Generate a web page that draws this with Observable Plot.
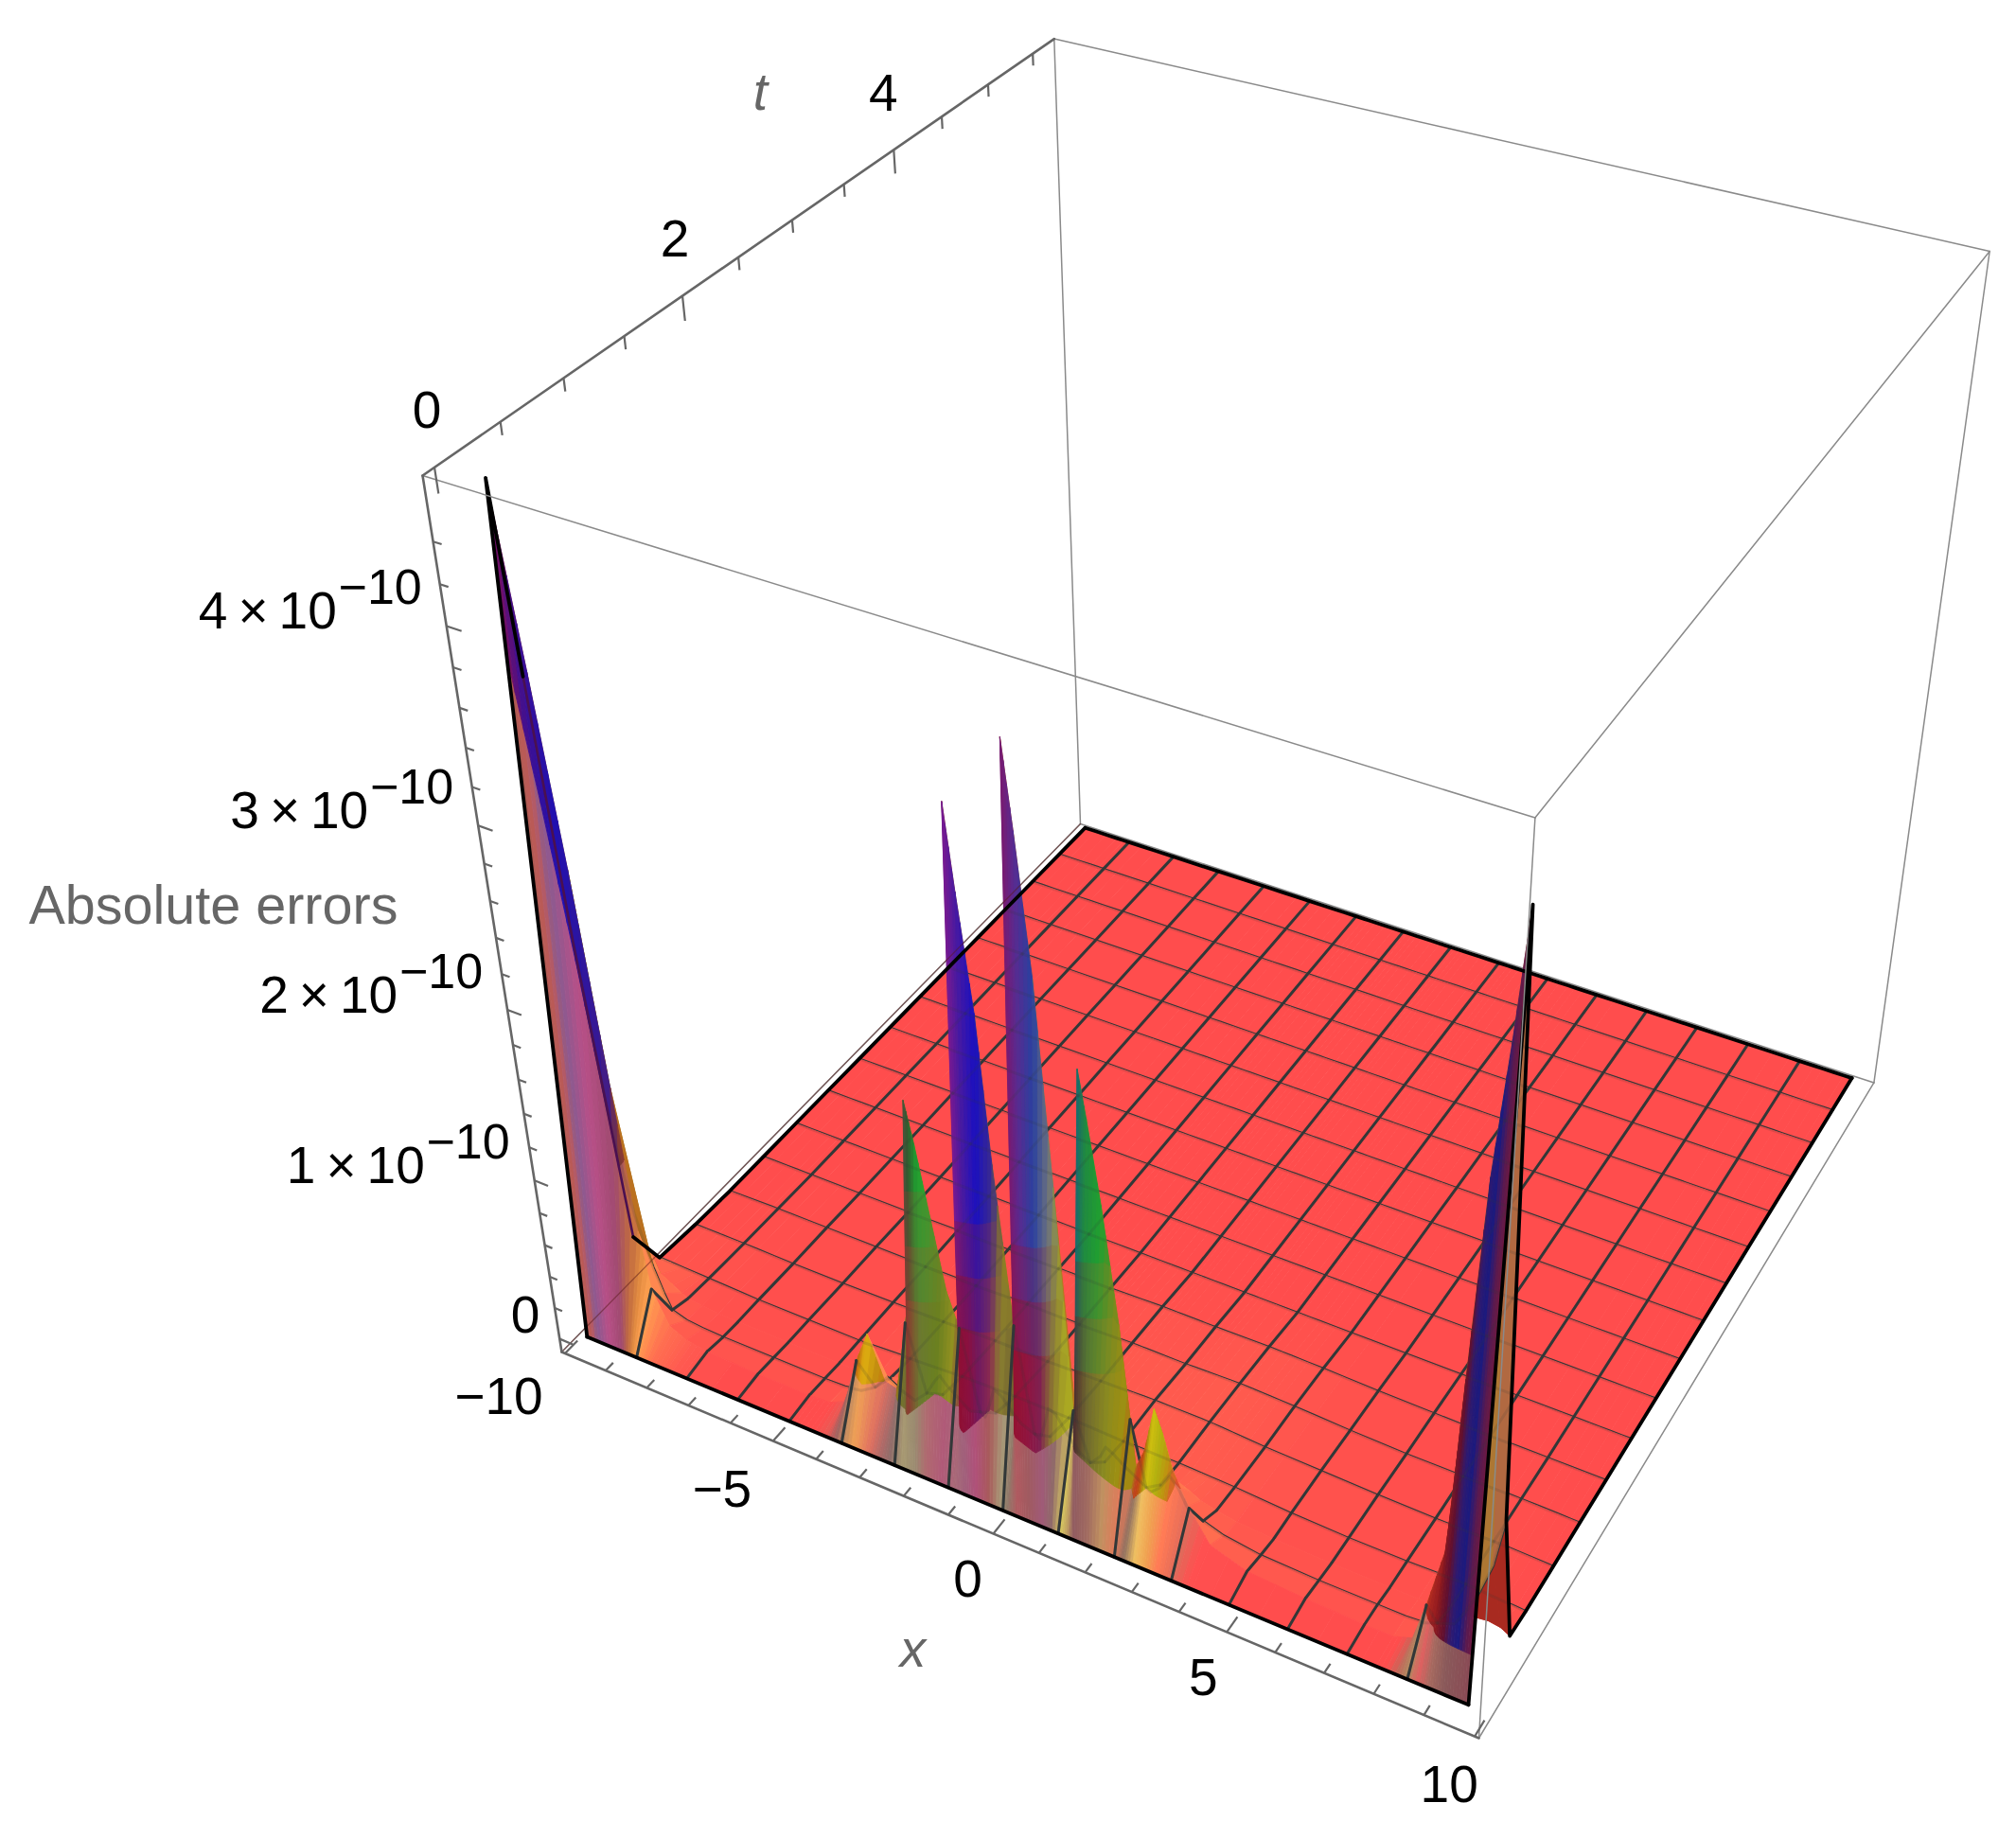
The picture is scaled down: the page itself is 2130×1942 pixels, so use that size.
<!DOCTYPE html>
<html>
<head>
<meta charset="utf-8">
<script src="https://cdn.jsdelivr.net/npm/d3@7"></script>
<script src="https://cdn.jsdelivr.net/npm/@observablehq/plot@0.6"></script>
<style>html,body{margin:0;padding:0;background:#fff}svg{display:block}</style>
</head>
<body>
<div id="chart"></div>
<script>
// ---------- data: absolute errors (units of 1e-10) ----------
const xs = [-10,-9.7,-9.4,-9.1,-8.9,-8.75,-8.4,-8,-7.5,-6.25,-5,-4.5,-4.1,-3.75,-3.43,-3.1,-2.8,-2.5,-2.29,-2.16,-1.99,-1.74,-1.49,-1.25,-1.14,-1.01,-0.9,-0.74,-0.49,-0.29,0,0.11,0.23,0.34,0.51,0.76,1.01,1.25,1.33,1.49,1.61,1.76,2.01,2.31,2.6,2.8,3.03,3.2,3.4,3.75,4.2,5,6.25,7.5,8.1,8.5,8.75,9.1,9.3,9.55,9.8,10];
const zAt020 = [4.6,3.7,2.7,1.5,0.65,0.3,0.1,0.05,0.03,0.02,0.02,0.03,0.08,0.38,0.58,0.32,0.3,0.75,1.0,2.08,1.85,1.45,1.05,0.85,0.6,1.3,3.73,3.3,2.7,1.9,1.0,0.75,1.6,4.13,3.7,3.0,1.9,0.62,0.7,1.1,2.6,2.35,1.9,1.25,0.42,0.55,0.83,0.7,0.5,0.3,0.12,0.05,0.03,0.02,0.02,0.06,0.3,0.7,1.7,2.8,3.5,4.14];
const zAt035 = [2.15,1.1,0.6,0.3,0.15,0.06,0.03,0.02,0.015,0.015,0.015,0.02,0.04,0.1,0.2,0.15,0.12,0.2,0.3,0.35,0.3,0.25,0.2,0.22,0.2,0.3,0.4,0.38,0.3,0.25,0.22,0.2,0.3,0.42,0.4,0.3,0.22,0.18,0.2,0.25,0.32,0.3,0.25,0.2,0.15,0.2,0.3,0.25,0.15,0.1,0.06,0.03,0.02,0.02,0.02,0.03,0.06,0.1,0.2,0.35,0.55,0.85];
const zAt050 = [0.3,0.2,0.12,0.08,0.05,0.03,0.02,0.01,0.01,0.01,0.01,0.01,0.02,0.05,0.08,0.07,0.06,0.08,0.1,0.12,0.11,0.1,0.08,0.1,0.09,0.1,0.14,0.13,0.12,0.1,0.09,0.08,0.1,0.14,0.14,0.11,0.09,0.07,0.08,0.1,0.12,0.11,0.1,0.08,0.06,0.08,0.12,0.1,0.07,0.05,0.03,0.015,0.01,0.01,0.01,0.015,0.03,0.03,0.04,0.05,0.04,0.01];
const xMesh = [-10,-8.75,-7.5,-6.25,-5,-3.75,-2.5,-1.25,0,1.25,2.5,3.75,5,6.25,7.5,8.75,10];
const zAt070 = [0.03,0.02,0.01,0.01,0.01,0.03,0.05,0.06,0.06,0.05,0.05,0.04,0.02,0.01,0.01,0.02,0];
const zAt105 = [0.01,0.01,0.005,0.005,0.01,0.02,0.03,0.03,0.04,0.05,0.05,0.03,0.02,0.01,0.005,0.01,0];
const zAt140 = [0,0.005,0.005,0.005,0.005,0.01,0.02,0.02,0.03,0.03,0.04,0.03,0.015,0.005,0.005,0.005,0];
const zAt175 = [0,0,0,0,0.005,0.005,0.01,0.01,0.02,0.02,0.025,0.02,0.01,0.005,0,0,0];
const tRows = [0,0.2,0.35,0.5,0.7,1.05,1.4,1.75,2.1,2.45,2.8,3.15,3.5,3.85,4.2,4.55,4.9,5.25,5.6];
const xTicks = d3.range(-10,11,1), xLabels = [-10,-5,0,5,10];
const xLabelTexts = ["−10","−5","0","5","10"];
const tTicks = d3.range(0,5.6,0.5), tLabels = [0,2,4];
const tLabelTexts = ["0","2","4"];
const zTicks = d3.range(0,4.41,0.2), zLabels = [1,2,3,4];
const xTitle = "x", tTitle = "t", zTitle = "Absolute errors";

// ---------- styles (colour stops along x) ----------
const finStops = [[-10,"#7a1060"],[-9.8,"#401090"],[-9.5,"#2010b0"],[-9.15,"#3a1a90"],[-9.02,"#8a3a30"],[-8.8,"#d06020"],[-8.7,"#e07040"],
 [-3.9,"#e05020"],[-3.65,"#c06a10"],[-3.43,"#e0b010"],[-3.2,"#c08a10"],[-2.95,"#d06a10"],[-2.7,"#a8501a"],[-2.45,"#6a7a30"],[-2.25,"#5a6a35"],[-2.1,"#5a5040"],[-2,"#305a30"],[-1.85,"#20a030"],[-1.7,"#30a030"],[-1.45,"#70882a"],[-1.25,"#a0a020"],
 [-1.02,"#8a3a30"],[-0.93,"#8c1030"],[-0.85,"#7a1a70"],[-0.81,"#7a1a90"],[-0.65,"#4a1aa0"],[-0.4,"#1a10c0"],[-0.2,"#3a2a90"],[-0.05,"#8a7a20"],[0.08,"#a09020"],
 [0.2,"#6a5a20"],[0.3,"#8c1030"],[0.38,"#7a1a60"],[0.43,"#7a1a70"],[0.6,"#5a2a90"],[0.85,"#2a40a0"],[1.05,"#6a7080"],[1.2,"#a0a030"],[1.32,"#c0c020"],[1.46,"#504040"],[1.62,"#3a4a40"],[1.7,"#1a6a70"],[1.85,"#208a40"],[2.1,"#20a030"],[2.35,"#6a8a20"],[2.55,"#a09010"],[2.7,"#c04020"],
 [2.8,"#c04a10"],[2.95,"#b09a10"],[3.03,"#d0c010"],[3.2,"#b0b010"],[3.35,"#c09010"],[3.5,"#e05030"],[8.6,"#d04020"],[9.0,"#a02020"],[9.2,"#8a1a20"],[9.4,"#601030"],[9.55,"#301a70"],[9.7,"#1a1a80"],[9.87,"#5a1a50"],[10,"#701a40"]];
const lowFinStops = [[-2.7,"#a8701a"],[-2.5,"#807a20"],[-2.25,"#707030"],[-2.05,"#8a3a30"],[-1.8,"#6a7a30"],[-1.5,"#6a8020"],[-1.25,"#909020"],[-1.05,"#8a3a40"],[-0.9,"#901030"],[-0.6,"#8a1040"],[-0.4,"#701a60"],[-0.2,"#8a2a50"],[-0.05,"#8a8030"],[0.2,"#6a5a30"],[0.4,"#951030"],[0.7,"#901540"],[0.95,"#802050"],[1.15,"#8a7a30"],[1.3,"#b0b020"],[1.45,"#503840"],[1.7,"#503030"],[1.95,"#706a30"],[2.3,"#8a8a20"],[2.55,"#a09010"]];
const paleStops = [[-10,"#a85a50"],[-9.85,"#c05a58"],[-9.7,"#8a5a90"],[-9.4,"#b85088"],[-9.1,"#a04a70"],[-8.95,"#c06a40"],[-8.85,"#e08a40"],[-8.75,"#ffa050"],[-8.4,"#ff7050"],[-7.8,"#ff5a50"],[-7,"#ff4d4d"],[-4.4,"#ff4d4d"],[-4.1,"#e85a55"],[-3.9,"#a06060"],[-3.7,"#c08a60"],[-3.45,"#f0a055"],[-3.1,"#e07060"],[-2.85,"#b06a68"],[-2.6,"#8f6d6a"],[-2.3,"#a89a72"],[-2,"#9a8a70"],[-1.75,"#b06a70"],[-1.4,"#b05a78"],[-1.1,"#a86a78"],[-0.85,"#a0607a"],[-0.6,"#b0507a"],[-0.3,"#a85a5a"],[-0.05,"#a89a78"],[0.1,"#907a6a"],[0.35,"#b05a60"],[0.6,"#a05a60"],[0.9,"#a05a78"],[1.1,"#906a6a"],[1.3,"#d8c860"],[1.45,"#c0a060"],[1.6,"#905a60"],[1.9,"#a06a60"],[2.2,"#c09060"],[2.5,"#e07a5a"],[2.7,"#907060"],[2.95,"#f0c060"],[3.2,"#f0a050"],[3.45,"#ff7a55"],[3.8,"#e06a5a"],[4.1,"#ff5050"],[5,"#ff4d4d"],[8.3,"#ff4d4d"],[8.55,"#c06a5a"],[8.75,"#b08a60"],[8.95,"#e06060"],[9.2,"#a86a60"],[9.5,"#8a5a5a"],[10,"#8a4a55"]];
const curtainStops = [[-8.8,0.9],[-4.3,0.9],[-4,0.35],[-3.6,0.33],[-2.6,0.33],[-2.2,0.33],[-1.6,0.5],[-0.85,0.38],[-0.3,0.56],[0.75,0.43],[1.35,0.57],[1.75,0.5],[2.3,0.4],[2.7,0.3],[3.03,0.42],[3.4,0.35],[4,0.9],[8.5,0.9],[8.8,0.3],[10,0.3]];
const planeColor = "#ff4d4d", meshColor = "#333838", tickColor = "#666666", boxColor = "#8a8a8a";
const backStops = [[0.5,"#c06a20"],[1.2,"#a88a20"],[2.2,"#b06a40"],[4,"#c05060"]];

// ---------- camera: perspective view of the unit box ----------
const cam = {O:[593,1428],A:[1562,1836],B:[1141,870],C:[446,502],a:0.889,b:1.211,c:0.83};
const uX = x => 0.022 + 0.96*(x+10)/20, uAxis = x => 0.004 + 0.992*(x+10)/20;
const vT = t => 0.015 + 0.96*t/5.6, wZ = z => 0.018 + 0.2088*z;
function project(u,v,w){
  const {O,A,B,C,a,b,c} = cam;
  const D = 1+(a-1)*u+(b-1)*v+(c-1)*w;
  return [0,1].map(i => (O[i]+u*(a*A[i]-O[i])+v*(b*B[i]-O[i])+w*(c*C[i]-O[i]))/D);
}
const P3 = (x,t,z) => project(uX(x),vT(t),wZ(z));

// ---------- helpers ----------
const stopScale = stops => d3.scaleLinear().domain(stops.map(s=>s[0])).range(stops.map(s=>s[1])).clamp(true);
const colorX = x => (x>-2.6 && x<2.5) ? x+0.09 : x;
const finScale = stopScale(finStops).interpolate(d3.interpolateRgb);
const finColor = x => finScale(colorX(x));
const lowScale = stopScale(lowFinStops).interpolate(d3.interpolateRgb);
const lowColor = x => (x>-2.7&&x<2.45) ? lowScale(colorX(x)) : finColor(x);
const paleColor = stopScale(paleStops).interpolate(d3.interpolateRgb);
const curtainTop = stopScale(curtainStops);
const backColor = stopScale(backStops).interpolate(d3.interpolateRgb);
const planeMix = d3.scaleLinear().domain([0,0.04,0.3]).range([planeColor,"#ff5a4e","#ff8a50"]).clamp(true).interpolate(d3.interpolateRgb);
const zMeshAt = arr => d3.scaleLinear().domain(xMesh).range(arr);
const far = [zAt070,zAt105,zAt140,zAt175].map(zMeshAt);
const zRow = [xs.map(()=>0),zAt020,zAt035,zAt050,...far.map(f=>xs.map(f))];
while (zRow.length<tRows.length) zRow.push(xs.map(()=>0));
const zx = zRow.map(r=>d3.scaleLinear().domain(xs).range(r));
const surf = (x,i) => zx[i](x);
function zAtT(x,t){
  let i = d3.bisectRight(tRows,t)-1; i = Math.max(0,Math.min(i,tRows.length-2));
  const f=(t-tRows[i])/(tRows[i+1]-tRows[i]);
  return surf(x,i)*(1-f)+surf(x,i+1)*f;
}

// ---------- build layers: far band first, near band last ----------
let pid=0;
function quad(out,corners,color){ pid++; corners.forEach(p=>out.push({px:p[0],py:p[1],id:pid,c:color})); }
const meshX = d3.range(1,16).map(k=>-10+1.25*k), meshT = d3.range(1,16).map(k=>0.35*k);
const allX = Array.from(new Set([...xs,...meshX])).sort((a,b)=>a-b);
const line3 = (pts,key)=>pts.map(p=>({px:p[0],py:p[1],id:key}));
const meshStyle = {x:"px",y:"py",z:"id",stroke:meshColor,strokeWidth:3,strokeLinejoin:"round"};
const surfaceMarks=[], allMesh=[];
const mix=(a,b,f)=>d3.interpolateRgb(a,b)(f);

for(let i=tRows.length-2;i>=0;i--){
  const t0=tRows[i], t1=tRows[i+1], polys=[];
  if(i===0){
    for(let j=0;j<xs.length-1;j++){
      const n = (xs[j+1]-xs[j])>0.5 ? 2 : 4;
      for(let k=0;k<n;k++){
        const xa=xs[j]+(xs[j+1]-xs[j])*k/n, xb=xs[j]+(xs[j+1]-xs[j])*(k+1)/n, xm=(xa+xb)/2;
        const ra=Math.max(surf(xa,1),1e-6), rb=Math.max(surf(xb,1),1e-6);
        const at=(x,r,level)=>{const s=Math.min(1,level/r);return P3(x,t1*s,r*s);};
        const zone=(la,lb,c)=>quad(polys,[at(xa,ra,la[0]),at(xb,rb,lb[0]),at(xb,rb,lb[1]),at(xa,ra,la[1])],c);
        if(xm<-8.8){
          const fa=ra>1.2?0.82:1, fb=rb>1.2?0.82:1;
          zone([0,ra*fa],[0,rb*fb],paleColor(xm));
          if(fa<1||fb<1) zone([ra*fa,ra],[rb*fb,rb],finColor(xm));
        } else {
          const ca=curtainTop(xa), cb=curtainTop(xb);
          zone([0,ca],[0,cb],paleColor(xm));
          const levels=[[ca,cb],[1,1],[1.3,1.3],[1.6,1.6],[9,9]];
          const fs_=[0,0.33,0.67,1];
          for(let L=0;L<4;L++){
            const la=Math.max(levels[L][0],ca), lb=Math.max(levels[L][1],cb), ua=levels[L+1][0], ub=levels[L+1][1];
            if(la<ra||lb<rb) zone([la,Math.max(ua,la)],[lb,Math.max(ub,lb)],mix(lowColor(xm),finColor(xm),fs_[L]));
          }
        }
      }
    }
  } else {
    for(let j=0;j<xs.length-1;j++){
      const xa=xs[j],xb=xs[j+1];
      const za0=surf(xa,i),zb0=surf(xb,i),za1=surf(xa,i+1),zb1=surf(xb,i+1);
      const zm=(za0+zb0+za1+zb1)/4;
      let col = zm>0.5 ? backColor(zm) : planeMix(zm);
      if(xa>=9.1 && i<=2 && zm<=0.5) col="#a82a20";
      quad(polys,[P3(xa,t0,za0),P3(xb,t0,zb0),P3(xb,t1,zb1),P3(xa,t1,za1)],col);
    }
  }
  surfaceMarks.push(Plot.line(polys,{x:"px",y:"py",z:"id",fill:"c",stroke:"c",strokeWidth:0.9,curve:"linear-closed"}));
  const seg=[];
  meshX.forEach((x,k)=>seg.push(...line3([P3(x,t0,surf(x,i)),P3(x,t1,surf(x,i+1))],`x${k}`)));
  meshT.filter(t=>t>=t0-1e-9&&t<t1-1e-9).forEach((t,k)=>seg.push(...line3(allX.map(x=>P3(x,t,zAtT(x,t))),`t${k}`)));
  allMesh.push(...seg.map(d=>({...d,id:d.id+"_"+i})));
  surfaceMarks.push(Plot.line(seg,meshStyle));
}

// boundary of the surface
const tLeftTop=[0,0.2,0.26], tLeftLow=[0.26,0.35,0.5], tLeftBack=tRows.filter(t=>t>=0.5);
const boundary=[
  ...line3([P3(-10,0,0),P3(10,0,0)],"front"),
  ...line3(allX.map(x=>P3(x,5.6,0)),"back"),
  ...line3(tLeftTop.map(t=>P3(-10,t,zAtT(-10,t))),"left"),
  ...line3(tLeftBack.map(t=>P3(-10,t,zAtT(-10,t))),"leftBack"),
  ...line3(tRows.map((t,i)=>P3(10,t,surf(10,i))),"right")
];
const boundaryLow=line3(tLeftLow.map(t=>P3(-10,t,zAtT(-10,t))),"leftLow");

// box
const corner=(u,v,w)=>project(u,v,w);
const segs=(list)=>list.flatMap((s,i)=>line3([corner(...s[0]),corner(...s[1])],i));
const boxBack=segs([[[0,0,0],[0,1,0]],[[0,1,0],[1,1,0]],[[0,1,0],[0,1,1]],[[1,1,0],[1,1,1]],[[0,1,1],[1,1,1]],[[1,0,1],[1,1,1]],[[1,0,0],[1,1,0]]]);
const boxFront=segs([[[0,0,1],[1,0,1]],[[1,0,0],[1,0,1]]]);
const axesLines=segs([[[0,0,0],[1,0,0]],[[0,0,0],[0,0,1]],[[0,0,1],[0,1,1]]]);

// ticks
const tickX=xTicks.map(x=>{const maj=xLabels.includes(x);const u=uAxis(x);const [a,b]=[project(u,0,0),project(u,maj?0.02:0.012,0)];return {x1:a[0],y1:a[1],x2:b[0],y2:b[1]};});
const tickT=tTicks.map(t=>{const maj=tLabels.includes(t);const v=vT(t);const [a,b]=[project(0,v,1),project(0,v,maj?0.975:0.987)];return {x1:a[0],y1:a[1],x2:b[0],y2:b[1]};});
const tickZ=zTicks.map(z=>{const maj=Math.abs(z-Math.round(z))<1e-6;const w=wZ(z);const [a,b]=[project(0,0,w),project(maj?0.016:0.009,0,w)];return {x1:a[0],y1:a[1],x2:b[0],y2:b[1]};});
const tickMark=(d)=>Plot.link(d,{x1:"x1",y1:"y1",x2:"x2",y2:"y2",stroke:tickColor,strokeWidth:2.2});

// labels
const font="Liberation Sans", fs=55;
const xDx=[-70,-54,-27,-25,-27], xDy=[46,52,49,49,52];
const xLab=xLabels.map((x,i)=>{const p=project(uAxis(x),0,0);return {px:p[0]+xDx[i],py:p[1]+xDy[i],s:xLabelTexts[i]};});
const tDx=[-8,-8,-11];
const tLab=tLabels.map((t,i)=>{const p=project(0,vT(t),1);return {px:p[0]+tDx[i],py:p[1]-59,s:tLabelTexts[i]};});
const zp=z=>project(0,0,wZ(z));
const zMain=zLabels.map(z=>({px:zp(z)[0]-26-90,py:zp(z)[1]-15,s:`${z}\u2009×\u200910`}));
const zSup=zLabels.map(z=>({px:zp(z)[0]-26,py:zp(z)[1]-40,s:"−10"}));
const zZero=[{px:zp(0)[0]-21,py:zp(0)[1]-24,s:"0"}];
const txt=(d,o={})=>Plot.text(d,{x:"px",y:"py",text:"s",fontFamily:font,fontSize:fs,fill:"#000",lineAnchor:"middle",...o});
const titleMark=(p,s,o)=>Plot.text([{px:p[0],py:p[1],s}],{x:"px",y:"py",text:"s",fontFamily:font,fontSize:fs,fill:"#666666",lineAnchor:"middle",...o});

const chart=Plot.plot({
  width:2130,height:1942,margin:0,
  x:{domain:[0,2130],range:[0,2130],axis:null},
  y:{domain:[0,1942],range:[0,1942],axis:null},
  color:{type:"identity"},
  style:{background:"#fff"},
  marks:[
    Plot.line(boxBack,{x:"px",y:"py",z:"id",stroke:boxColor,strokeWidth:1.5}),
    ...surfaceMarks,
    Plot.line(allMesh,{...meshStyle,strokeOpacity:0.14}),
    Plot.line(boxBack.filter(d=>d.id===0),{x:"px",y:"py",z:"id",stroke:"#5a1a1a",strokeWidth:1.2,strokeOpacity:0.5}),
    Plot.line(boundaryLow,{x:"px",y:"py",z:"id",stroke:"#4a1050",strokeWidth:2.6}),
    Plot.line(boundary,{x:"px",y:"py",z:"id",stroke:"#000",strokeWidth:3.8,strokeLinejoin:"round"}),
    Plot.line(boxFront,{x:"px",y:"py",z:"id",stroke:boxColor,strokeWidth:1.5}),
    Plot.line(axesLines,{x:"px",y:"py",z:"id",stroke:tickColor,strokeWidth:2.6}),
    tickMark(tickX),tickMark(tickT),tickMark(tickZ),
    txt(xLab,{textAnchor:"middle"}),
    txt(tLab,{textAnchor:"middle"}),
    txt(zMain,{textAnchor:"end"}),
    txt(zSup,{textAnchor:"end",fontSize:52}),
    txt(zZero,{textAnchor:"end"}),
    titleMark([964,1743],xTitle,{fontStyle:"italic"}),
    titleMark([803,98],tTitle,{fontStyle:"italic"}),
    titleMark([30,957],zTitle,{textAnchor:"start",fontSize:57.5})
  ]
});
document.getElementById("chart").append(chart);
</script>
</body>
</html>
